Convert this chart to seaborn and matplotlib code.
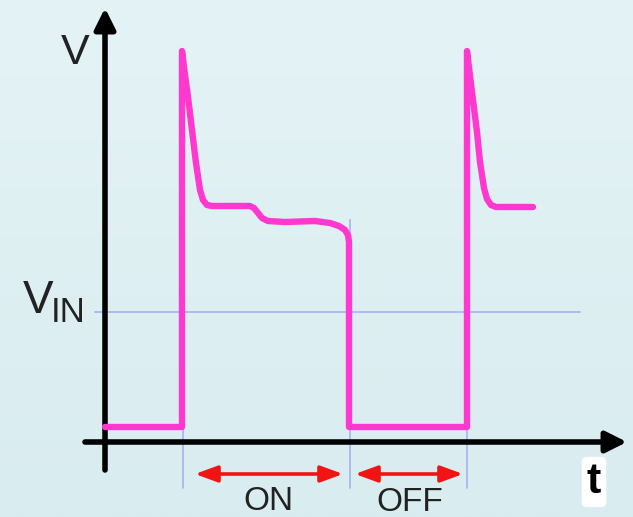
import numpy as np
import pandas as pd
import seaborn as sns
import matplotlib
matplotlib.use("Agg")
import matplotlib.pyplot as plt

# Drain-voltage waveform of a switching transistor (arbitrary units)
t_wave = [0, 77, 77, 80, 83, 87, 91, 95, 98, 102, 107, 145, 149, 153, 157, 163,
          180, 210, 225, 234, 240, 243, 244, 244, 362, 362, 365, 368, 372, 375,
          379, 382, 386, 391, 428]
v_wave = [15, 15, 391, 367, 345, 312, 279, 252, 242, 237, 236, 236, 234, 229, 224, 221,
          220, 221, 219, 216, 212, 207, 200, 15, 15, 391, 366, 342, 310, 280,
          254, 243, 237, 235, 235]

v_in = 130                      # input voltage level
switch_times = [78, 245, 362]   # switching instants
phase_labels = ["ON", "OFF"]
phase_spans = [(90, 238), (250, 358)]

sns.set_theme(style="white")
plt.rcParams["font.family"] = ["Liberation Sans", "DejaVu Sans"]

fig = plt.figure(figsize=(6.33, 5.17), dpi=100)
ax = fig.add_axes([0, 0, 1, 1])
ax.set_xlim(-105, 528)
ax.set_ylim(-75, 442)
ax.set_axis_off()

# soft background gradient
grad = np.linspace(0, 1, 256).reshape(-1, 1)
bg = matplotlib.colors.LinearSegmentedColormap.from_list("bg", ["#e4f3f6", "#d9ecef"])
ax.imshow(grad, extent=(-105, 528, -75, 442), aspect="auto", cmap=bg,
          origin="upper", zorder=0)

# reference lines
ax.plot([-10, 475], [v_in, v_in], color="#aab6f2", lw=1.3, zorder=1)
for ts in switch_times:
    ax.plot([ts, ts], [-46, 222], color="#aab6f2", lw=1.3, zorder=1)

# axes with arrow heads
ax.annotate("", xy=(0, 434), xytext=(0, -28),
            arrowprops=dict(arrowstyle="-|>,head_length=0.7,head_width=0.35",
                            lw=4, color="black", shrinkA=0, shrinkB=0,
                            mutation_scale=18), zorder=3)
ax.annotate("", xy=(522, 0), xytext=(-20, 0),
            arrowprops=dict(arrowstyle="-|>,head_length=0.7,head_width=0.35",
                            lw=4, color="black", shrinkA=0, shrinkB=0,
                            mutation_scale=18), zorder=3)

# waveform
df = pd.DataFrame({"t": t_wave, "V": v_wave})
sns.lineplot(data=df, x="t", y="V", sort=False, estimator=None, ax=ax,
             color="#ff38cf", lw=4.6, solid_capstyle="round",
             solid_joinstyle="round", zorder=4)
ax.set_xlim(-105, 528)
ax.set_ylim(-75, 442)

# ON / OFF intervals
label_pos = {"ON": (163, -68), "OFF": (305, -69)}
for (a, b), lab in zip(phase_spans, phase_labels):
    ax.annotate("", xy=(b, -32), xytext=(a, -32),
                arrowprops=dict(arrowstyle="<|-|>,head_length=0.9,head_width=0.33",
                                lw=2.6, color="#f01414", shrinkA=0, shrinkB=0,
                                mutation_scale=15), zorder=3)
    x, y = label_pos[lab]
    ax.text(x, y, lab, ha="center", va="baseline", fontsize=24, color="#222222")

# axis labels
ax.text(-30, 389, "V", ha="center", va="center", fontsize=31, color="#222222")
ax.text(-67, 129, "V", ha="center", va="baseline", fontsize=33, color="#222222")
ax.text(-37, 120, "IN", ha="center", va="baseline", fontsize=25, color="#222222")
ax.text(489, -51, "t", ha="center", va="baseline", fontsize=31, fontweight="bold",
        color="black",
        bbox=dict(boxstyle="round,pad=0.12", fc="white", ec="none"))

fig.savefig("out.png", dpi=100)
